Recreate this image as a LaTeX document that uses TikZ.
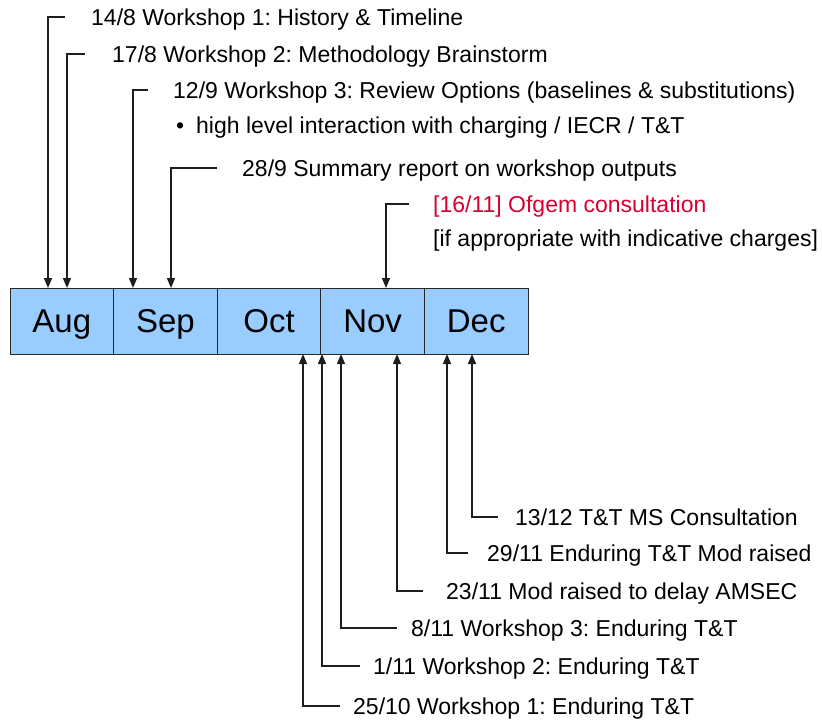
\documentclass[tikz,border=0pt]{standalone}
\usepackage{fontspec}
\setmainfont{Liberation Sans}
\usetikzlibrary{arrows.meta}
\definecolor{boxblue}{RGB}{153,204,255}
\definecolor{boxline}{RGB}{40,40,40}
\definecolor{ofred}{RGB}{214,0,50}
\definecolor{linegray}{RGB}{30,30,30}
\frenchspacing
\tikzset{
  month/.style={draw=boxline, line width=1pt, fill=boxblue, minimum width=103.6pt, minimum height=66pt, inner sep=0pt, text height=23.6pt, text depth=0pt, font=\fontsize{33}{38}\selectfont},
  lbl/.style={anchor=base west, inner sep=0pt, font=\fontsize{23}{27}\selectfont},
  conn/.style={draw=linegray, line width=1.3pt, -{Triangle[length=10pt,width=8pt]}}
}
\begin{document}
\begin{tikzpicture}[x=1pt,y=-1pt]
\useasboundingbox (0,0) rectangle (822,724);
% month boxes
\node[month] (aug) at (61.8,321) {Aug};
\node[month] (sep) at (165.4,321) {Sep};
\node[month] (oct) at (269.0,321) {Oct};
\node[month] (nov) at (372.6,321) {Nov};
\node[month] (dec) at (476.2,321) {Dec};

% arrow targets on the top edge
\coordinate (ta1) at (48,288);
\coordinate (ta2) at (67,288);
\coordinate (ta3) at (133,288);
\coordinate (ta5) at (171,288);
\coordinate (ta6) at (386,288);
% arrow targets on the bottom edge
\coordinate (tb1) at (472,354);
\coordinate (tb2) at (447,354);
\coordinate (tb3) at (397,354);
\coordinate (tb4) at (341,354);
\coordinate (tb5) at (322,354);
\coordinate (tb6) at (303,354);

% connector starts
\coordinate (sa1) at (65,17);
\coordinate (sa2) at (85,54);
\coordinate (sa3) at (148,90);
\coordinate (sa5) at (217,168);
\coordinate (sa6) at (409,204);
\coordinate (sb1) at (498,517);
\coordinate (sb2) at (468,553);
\coordinate (sb3) at (423,591);
\coordinate (sb4) at (397,628);
\coordinate (sb5) at (360,666);
\coordinate (sb6) at (340,706);

% top labels
\node[lbl] (la1) at (91,25) {14/8 Workshop 1: History \& Timeline};
\node[lbl] (la2) at (112,62) {17/8 Workshop 2: Methodology Brainstorm};
\node[lbl] (la3) at (173,98) {12/9 Workshop 3: Review Options (baselines \& substitutions)};
\node[lbl] (la4) at (176,133) {\makebox[20pt][l]{•}high level interaction with charging / IECR / T\&T};
\node[lbl] (la5) at (242,176) {28/9 Summary report on workshop outputs};
\node[lbl, text=ofred] (la6) at (433,212) {[16/11] Ofgem consultation};
\node[lbl] (la7) at (433,246) {[if appropriate with indicative charges]};

% bottom labels
\node[lbl] (lb1) at (515,525) {13/12 T\&T MS Consultation};
\node[lbl] (lb2) at (487,561) {29/11 Enduring T\&T Mod raised};
\node[lbl] (lb3) at (446,599) {23/11 Mod raised to delay AMSEC};
\node[lbl] (lb4) at (411,636) {8/11 Workshop 3: Enduring T\&T};
\node[lbl] (lb5) at (373,674) {1/11 Workshop 2: Enduring T\&T};
\node[lbl] (lb6) at (353,714) {25/10 Workshop 1: Enduring T\&T};

% connectors
\draw[conn] (sa1) -| (ta1);
\draw[conn] (sa2) -| (ta2);
\draw[conn] (sa3) -| (ta3);
\draw[conn] (sa5) -| (ta5);
\draw[conn] (sa6) -| (ta6);
\draw[conn] (sb1) -| (tb1);
\draw[conn] (sb2) -| (tb2);
\draw[conn] (sb3) -| (tb3);
\draw[conn] (sb4) -| (tb4);
\draw[conn] (sb5) -| (tb5);
\draw[conn] (sb6) -| (tb6);
\end{tikzpicture}
\end{document}
